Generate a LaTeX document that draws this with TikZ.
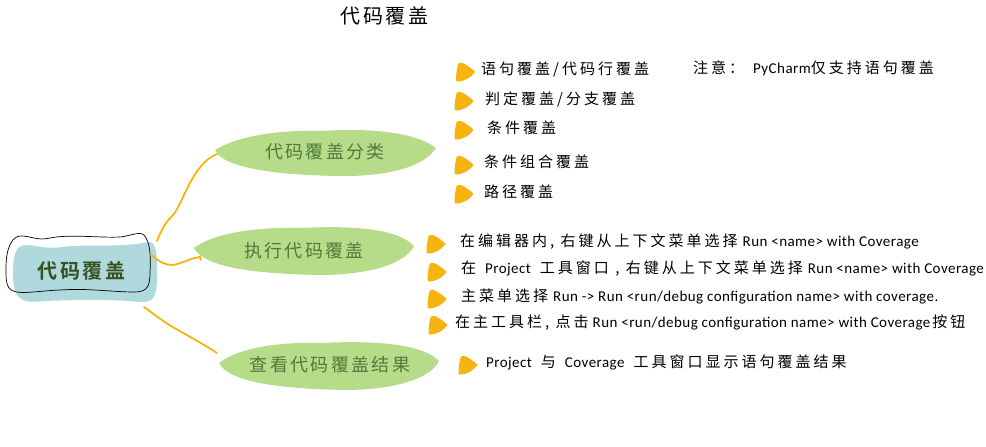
\documentclass[tikz,border=0pt]{standalone}
\usepackage{fontspec}
\setmainfont{Carlito}
\newfontfamily\zhb[LetterSpace=13]{Noto Sans CJK SC}
\newfontfamily\zhbold[LetterSpace=13]{Noto Sans CJK SC Bold}
\newfontfamily\zhn[LetterSpace=20]{Noto Sans CJK SC}
\newfontfamily\enn[LetterSpace=3]{Carlito}
\newcommand{\zt}[1]{{\zhn #1}}
\newcommand{\et}[1]{{\enn #1}}
\newcommand{\gap}{\hspace{9pt}}
\definecolor{leafgreen}{HTML}{B6DC8A}
\definecolor{rootblue}{HTML}{AFD9DD}
\definecolor{linkorange}{HTML}{F7B30F}
\definecolor{leaftext}{HTML}{4F7A3A}
\definecolor{roottext}{HTML}{35531F}
\tikzset{
  link/.style={draw=linkorange,line width=1.8pt,line cap=round},
  item/.style={anchor=west,inner sep=0pt,text=black,font=\fontsize{15}{18}\selectfont},
  leaflabel/.style={anchor=center,inner sep=0pt,text=leaftext,font=\fontsize{18}{20}\selectfont\zhb},
  bullet/.pic={\fill[linkorange] (-9.5,8) .. controls (-9.5,2) and (-8.5,-4) .. (-7.5,-7.5)
    .. controls (-6.5,-10) and (-3,-9.5) .. (0,-7.5)
    .. controls (4,-5) and (8,-2) .. (9.5,0)
    .. controls (6,5) and (0,9) .. (-7,9.5)
    .. controls (-9,9.7) and (-9.5,9.5) .. (-9.5,8) -- cycle;}
}
\begin{document}
\begin{tikzpicture}[x=1pt,y=-1pt]
\useasboundingbox (0,0) rectangle (986,447);
% root
\fill[rootblue] (13,275) .. controls (13,255) and (15,245) .. (27,245)
  .. controls (40,246) and (45,250) .. (70,246)
  .. controls (100,245) and (125,247) .. (148,242)
  .. controls (157,241) and (157,255) .. (157,275)
  .. controls (157,295) and (155,303) .. (140,302)
  .. controls (110,299) and (70,300) .. (45,301)
  .. controls (25,303) and (13,303) .. (13,275) -- cycle;
\draw[black,line width=0.7pt] (6,268) .. controls (6,248) and (12,235) .. (22,236)
  .. controls (30,236) and (38,241) .. (50,238)
  .. controls (70,234) and (100,238) .. (120,237)
  .. controls (130,236) and (140,231) .. (144,235)
  .. controls (150,242) and (151,255) .. (150,272)
  .. controls (150,285) and (148,292) .. (135,292)
  .. controls (110,292) and (90,288) .. (60,290)
  .. controls (35,291) and (15,296) .. (9,288)
  .. controls (6,284) and (6,278) .. (6,268) -- cycle;
\node[inner sep=0pt,text=roottext,font=\fontsize{20}{22}\selectfont\zhbold] (root) at (81.5,271) {代码覆盖};
% leaves
\fill[leafgreen] (215,150) .. controls (240,135) and (280,130) .. (320,131)
  .. controls (350,129) and (410,128) .. (436,148)
  .. controls (425,165) and (395,175) .. (350,176)
  .. controls (300,176) and (225,172) .. (215,150) -- cycle;
\fill[leafgreen] (194,248) .. controls (215,232) and (260,227) .. (300,228)
  .. controls (340,226) and (395,226) .. (414,246)
  .. controls (405,265) and (365,275) .. (320,275)
  .. controls (270,274) and (205,270) .. (194,248) -- cycle;
\fill[leafgreen] (219,363) .. controls (240,347) and (280,342) .. (320,343)
  .. controls (360,341) and (420,341) .. (439,361)
  .. controls (430,380) and (390,390) .. (345,390)
  .. controls (295,389) and (230,385) .. (219,363) -- cycle;
\node[leaflabel] (leafA) at (325,152) {代码覆盖分类};
\node[leaflabel] (leafB) at (304,250.5) {执行代码覆盖};
\node[leaflabel] (leafC) at (330,365) {查看代码覆盖结果};
\node[inner sep=0pt,font=\fontsize{20}{22}\selectfont\zhb] (title) at (384.5,16) {代码覆盖};
% connectors
\coordinate (rootA) at (157,241);
\coordinate (rootB) at (151,255);
\coordinate (rootC) at (144,307);
\coordinate (endA) at (217,154);
\coordinate (endB) at (200,257);
\coordinate (tailB) at (201,260);
\coordinate (endC) at (217,353);
\draw[link] (rootA) .. controls (163,226) and (167,221) .. (173,215)
  .. controls (183,204) and (192,164) .. (endA);
\draw[link] (rootB) .. controls (160,262) and (165,265) .. (172,265)
  .. controls (182,264) and (190,258) .. (endB) -- (tailB);
\draw[link] (rootC) .. controls (155,315) and (165,323) .. (178,330)
  .. controls (190,337) and (205,345) .. (endC);
% bullets
\foreach \bx/\by in {465.5/72,464/101,464/130,464/165,464/194,436/244,437/272,437/299,438/325,468/365}
  \pic at (\bx,\by) {bullet};
% items
\node[item] (a1) at (481,70) {\zt{语句覆盖/代码行覆盖}};
\node[item] (note) at (693,68) {\zt{注意：}\hspace{9pt}\et{PyCharm}\zt{仅支持语句覆盖}};
\node[item] (a2) at (485,99) {\zt{判定覆盖/分支覆盖}};
\node[item] (a3) at (487,128) {\zt{条件覆盖}};
\node[item] (a4) at (484,162) {\zt{条件组合覆盖}};
\node[item] (a5) at (484,192) {\zt{路径覆盖}};
\node[item] (b1) at (460,242) {\zt{在编辑器内, 右键从上下文菜单选择}\hspace{5pt}\et{Run <name> with Coverage}};
\node[item] (b2) at (461,269) {\zt{在}\gap\et{Project}\gap\zt{工具窗口 , 右键从上下文菜单选择}\hspace{5pt}\et{Run <name> with Coverage}};
\node[item] (b3) at (461,296) {\zt{主菜单选择}\hspace{5pt}\et{Run -> Run <run/debug configuration name> with coverage.}};
\node[item] (b4) at (455,323) {\zt{在主工具栏, 点击}\hspace{4pt}\et{Run <run/debug configuration name> with Coverage}\hspace{2pt}\zt{按钮}};
\node[item] (c1) at (486,362) {\et{Project}\gap\zt{与}\gap\et{Coverage}\gap\zt{工具窗口显示语句覆盖结果}};
\end{tikzpicture}
\end{document}
